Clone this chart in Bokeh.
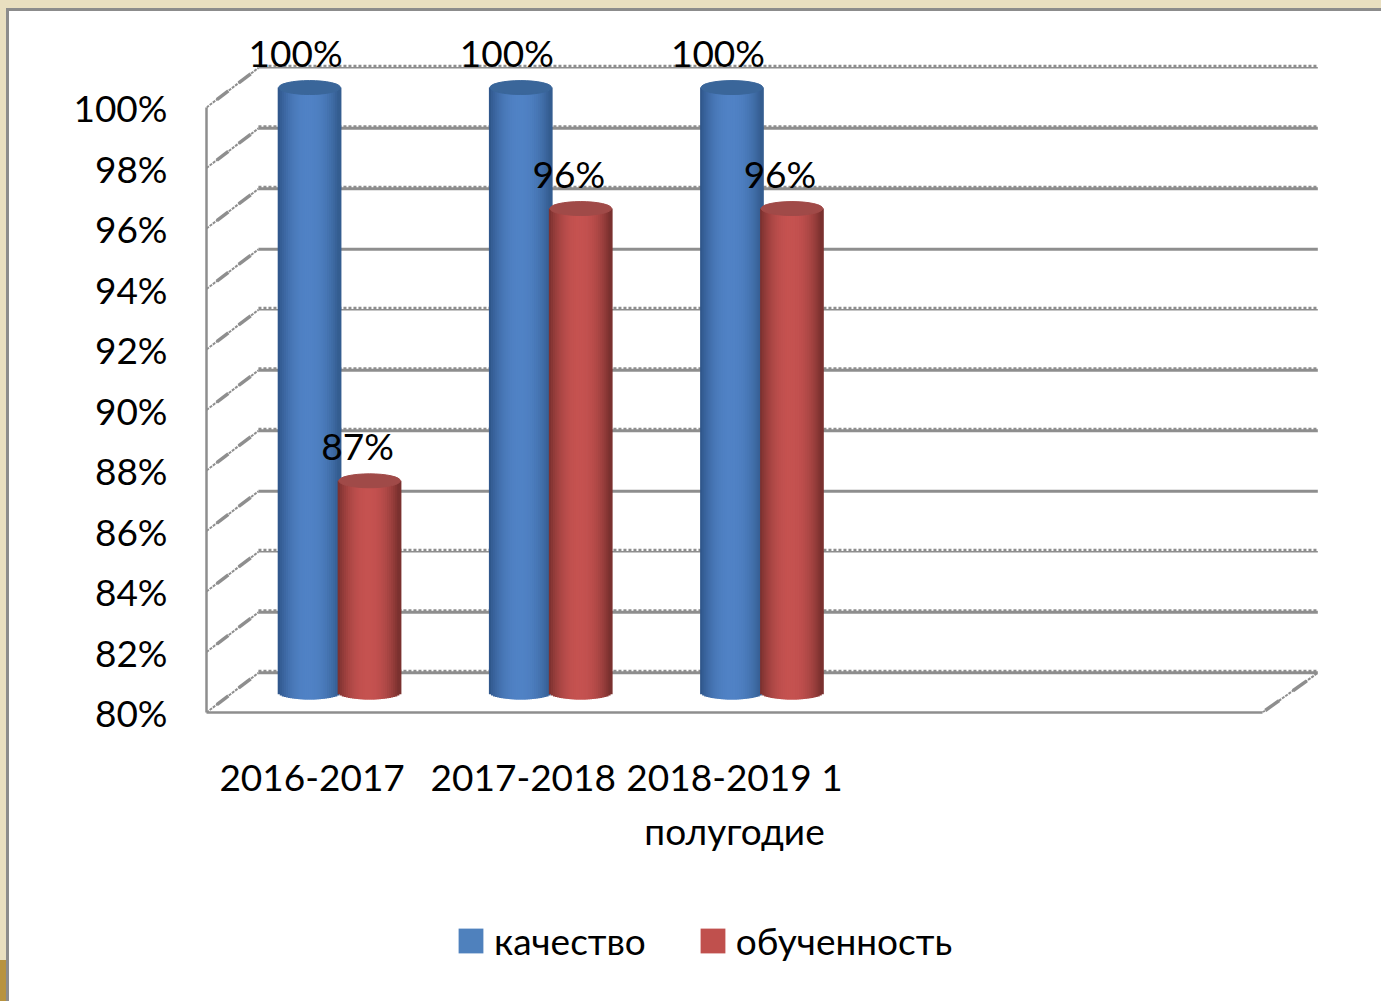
import math
from bokeh.embed import file_html
from bokeh.resources import INLINE
from bokeh.layouts import column
from bokeh.plotting import figure
from bokeh.models import FixedTicker, Legend, LegendItem, ColumnDataSource
from bokeh.core.properties import value

categories = ["2016-2017", "2017-2018", "2018-2019 1\nполугодие"]
series_names = ["качество", "обученность"]
kachestvo = [100, 100, 100]
obuchennost = [87, 96, 96]
labels_k = ["100%", "100%", "100%"]
labels_o = ["87%", "96%", "96%"]
y_ticks = [80, 82, 84, 86, 88, 90, 92, 94, 96, 98, 100]
solid_levels = [94, 86]
thin_levels = [100, 92, 84]

FONT = "Lato"
FS = "37px"
GREY = "#8e8e8e"
PX_X = 211.2
PX_Y = 30.25
ML, MT = 9, 11
FL, FT, FR, FB = 206, 30, 1330, 712
W, H1, H2 = 1371, 849, 140

p = figure(width=W, height=H1, output_backend="svg", toolbar_location=None,
           x_range=(0, (FR - FL) / PX_X), y_range=(80, 80 + (FB - FT) / PX_Y),
           min_border_left=FL - ML, min_border_right=ML + W - FR, min_border_top=FT - MT,
           min_border_bottom=MT + H1 - FB,
           background_fill_color="white", border_fill_color="white", outline_line_color=None)
p.grid.visible = False

# axes
p.yaxis.ticker = FixedTicker(ticks=y_ticks)
p.yaxis.major_label_overrides = {v: f"{v}%" for v in y_ticks}
p.yaxis.bounds = (80, 100)
p.xaxis.ticker = FixedTicker(ticks=[i + 0.5 for i in range(len(categories))])
p.xaxis.major_label_overrides = {i + 0.5: c for i, c in enumerate(categories)}
p.xaxis.bounds = (0, 5)
for ax in (p.xaxis, p.yaxis):
    ax.major_tick_line_color = None
    ax.minor_tick_line_color = None
    ax.axis_line_color = GREY
    ax.axis_line_width = 2.5
    ax.major_label_text_font = FONT
    ax.major_label_text_font_size = FS
    ax.major_label_text_color = "black"
p.yaxis.major_label_standoff = 33
p.xaxis.major_label_standoff = 35
p.xaxis.major_label_orientation = "horizontal"

# walls
DX_L, DX_R, DY = 0.246, 0.262, 1.31
wall_x0, wall_x1 = DX_L, 5 + DX_R
solid = [t for t in y_ticks if t not in thin_levels]
p.multi_line([[wall_x0, wall_x1] for _ in solid], [[t + DY, t + DY] for t in solid],
             line_color=GREY, line_width=3)
p.multi_line([[wall_x0, wall_x1] for _ in thin_levels], [[t + DY, t + DY] for t in thin_levels],
             line_color=GREY, line_width=1.5)
teeth = [t for t in y_ticks if t not in solid_levels]
p.multi_line([[wall_x0, wall_x1] for _ in teeth], [[t + DY + 0.06, t + DY + 0.06] for t in teeth],
             line_color=GREY, line_width=2.5, line_dash="3 2")
# side wall diagonals
p.multi_line([[0, DX_L] for _ in y_ticks], [[t, t + DY] for t in y_ticks],
             line_color=GREY, line_width=2, line_dash="3 1")
for a, b in ((0.2, 0.42), (0.62, 0.85)):
    p.multi_line([[a * DX_L, b * DX_L] for _ in y_ticks],
                 [[t + a * DY, t + b * DY] for t in y_ticks], line_color=GREY, line_width=3.5)
# floor
p.line([5, 5 + DX_R], [80, 80 + DY], line_color=GREY, line_width=2, line_dash="3 1")
for a, b in ((0.05, 0.3), (0.55, 0.8)):
    p.line([5 + a * DX_R, 5 + b * DX_R], [80 + a * DY, 80 + b * DY], line_color=GREY, line_width=3.5)
p.line([0, 5], [79.93, 79.93], line_color=GREY, line_width=3, line_dash="3 2")


def lerp(c1, c2, f):
    return "#" + "".join(f"{round(a + (b - a) * f):02x}" for a, b in zip(c1, c2))


BAR_W, LIFT, MINOR = 0.292, 0.66, 0.23
N = 30


def cylinder(offset, vals, edge_l, edge_r, mid, cap):
    cx = [i + offset for i in range(len(vals))]
    tops = [v + LIFT for v in vals]
    for k in range(N):
        t = -1 + (2 * k + 1) / N
        e = abs(t) ** 2.2
        col = lerp(mid, edge_l if t < 0 else edge_r, e)
        bot = 80 + LIFT - MINOR * math.sqrt(max(0, 1 - t * t))
        p.vbar(x=[c + t * BAR_W / 2 for c in cx], width=BAR_W / N * 2, top=tops,
               bottom=[bot] * len(vals), fill_color=col, line_color=None)
    p.ellipse(x=cx, y=tops, width=BAR_W, height=2 * MINOR, fill_color=cap,
              line_color=cap, line_width=1)
    return cx, tops


cx_k, top_k = cylinder(0.488, kachestvo, (46, 84, 136), (50, 90, 140), (80, 130, 197), "#3a669a")
cx_o, top_o = cylinder(0.772, obuchennost, (120, 48, 46), (116, 46, 44), (197, 82, 80), "#a04a48")

src_k = ColumnDataSource(dict(x=cx_k, y=top_k, t=labels_k))
src_o = ColumnDataSource(dict(x=cx_o, y=top_o, t=labels_o))
for src, dx in ((src_k, -14), (src_o, -12)):
    p.text(x="x", y="y", text="t", source=src, text_font=value(FONT), text_font_size=FS,
           text_color="black", text_align="center", text_baseline="middle",
           x_offset=dx, y_offset=-35)

# legend strip underneath
q = figure(width=W, height=H2, output_backend="svg", toolbar_location=None,
           x_range=(0, 1), y_range=(0, 1), min_border=0, x_axis_location=None,
           y_axis_location=None, background_fill_color="white", border_fill_color="white",
           outline_line_color=None)
q.grid.visible = False
r_k = q.vbar(x=[-1], width=0.1, top=[-1], bottom=[-2], fill_color="#4f81bd", line_color=None)
r_o = q.vbar(x=[-1], width=0.1, top=[-1], bottom=[-2], fill_color="#c0504d", line_color=None)
legend = Legend(items=[LegendItem(label=series_names[0], renderers=[r_k]),
                       LegendItem(label=series_names[1], renderers=[r_o])],
                orientation="horizontal", location=(249, 37), border_line_color=None,
                background_fill_alpha=0, border_line_alpha=0,
                glyph_width=31, glyph_height=31, label_standoff=8, spacing=51,
                label_text_font=FONT, label_text_font_size=FS, label_text_color="black",
                padding=0, margin=0)
q.add_layout(legend, "center")

CSS = """<style>html,body{background:
linear-gradient(#b8933f,#b8933f) 0 960px/6px 41px no-repeat,
linear-gradient(#e9dfc0,#e9dfc0) 0 0/100% 8px no-repeat,
linear-gradient(#e9dfc0,#e9dfc0) 0 0/6px 100% no-repeat,
linear-gradient(#8c8c8c,#8c8c8c) 6px 8px/1375px 3px no-repeat,
linear-gradient(#8c8c8c,#8c8c8c) 6px 8px/3px 100% no-repeat,
white;}</style></head>"""
page = column(p, q, margin=(MT, 0, 0, ML), spacing=0)
open("out.html", "w").write(file_html(page, INLINE).replace("</head>", CSS))
